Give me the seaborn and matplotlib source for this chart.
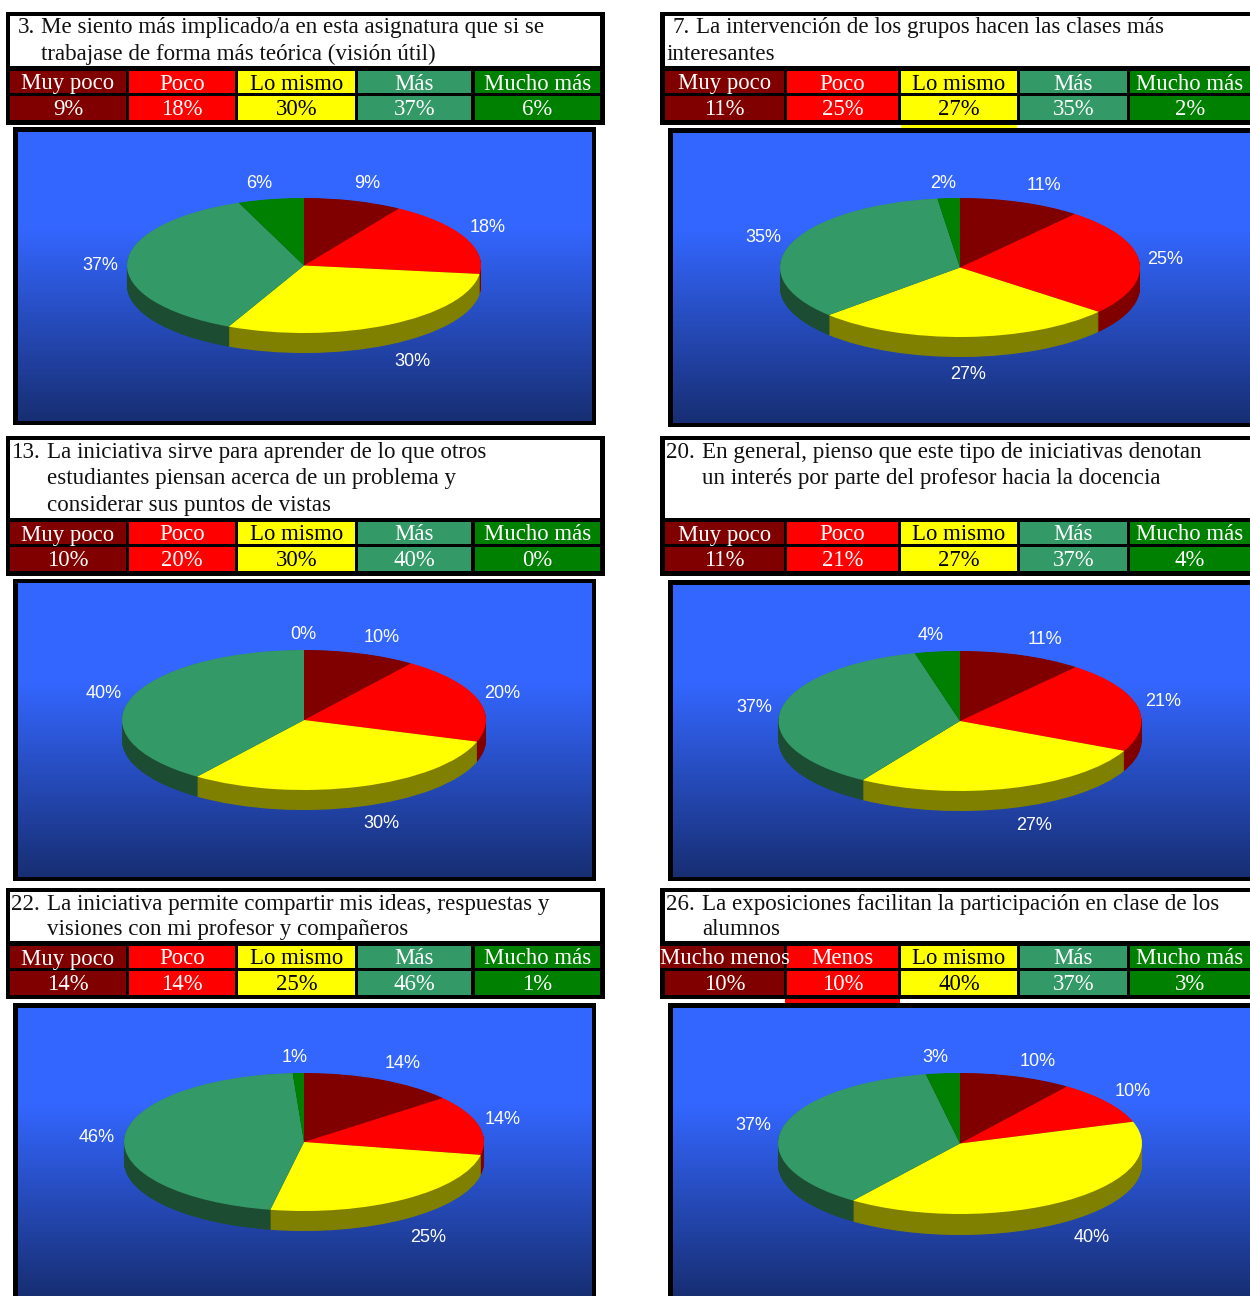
import numpy as np
import matplotlib

matplotlib.use("Agg")
import matplotlib.pyplot as plt
from matplotlib.patches import Rectangle
import seaborn as sns

sns.set_theme(style="white")

# survey values, one list per question
q3_values = [9, 18, 30, 37, 6]
q7_values = [11, 25, 27, 35, 2]
q13_values = [10, 20, 30, 40, 0]
q20_values = [11, 21, 27, 37, 4]
q22_values = [14, 14, 25, 46, 1]
q26_values = [10, 10, 40, 37, 3]
all_values = [q3_values, q7_values, q13_values, q20_values, q22_values, q26_values]

scale_labels = ["Muy poco", "Poco", "Lo mismo", "Más", "Mucho más"]
scale_labels_q26 = ["Mucho menos", "Menos", "Lo mismo", "Más", "Mucho más"]

numbers = ["3.", "7.", "13.", "20.", "22.", "26."]
titles = [
    ["Me siento más implicado/a en esta asignatura que si se",
     "trabajase de forma más teórica (visión útil)"],
    ["La intervención de los grupos hacen las clases más"],
    ["La iniciativa sirve para aprender de lo que otros",
     "estudiantes piensan acerca de un problema y",
     "considerar sus puntos de vistas"],
    ["En general, pienso que este tipo de iniciativas denotan",
     "un interés por parte del profesor hacia la docencia"],
    ["La iniciativa permite compartir mis ideas, respuestas y",
     "visiones con mi profesor y compañeros"],
    ["La exposiciones facilitan la participación en clase de los",
     "alumnos"],
]

top_colors = sns.color_palette(["#800000", "#ff0000", "#ffff00", "#339966", "#008000"])
wall_colors = sns.color_palette(["#4d0000", "#800000", "#808000", "#1c4d33", "#004000"])
text_colors = ["white", "white", "black", "white", "white"]
background = sns.blend_palette(["#3366ff", "#3366ff", "#254ab9", "#172e73"], as_cmap=True)

W, H = 1250, 1296
SERIF = "Liberation Serif"
SANS = "Liberation Sans"
TITLE_SIZE = 16.6
CELL_SIZE = 16.4

# layout, in pixels of the image
left_cells = [(10, 126), (129, 235), (238, 355), (358, 471), (475, 600)]
right_cells = [(665, 784), (787, 898), (901, 1017), (1020, 1127), (1130, 1254)]
# frame top, white bottom, header top, header bottom, value top, value bottom, frame bottom
rows = [
    (12, 66, 71, 93, 96, 120, 125),
    (12, 66, 71, 93, 96, 120, 125),
    (436, 518, 522, 544, 547, 571, 576),
    (436, 518, 522, 544, 547, 571, 576),
    (888, 941, 946, 968, 971, 995, 999),
    (888, 941, 946, 968, 971, 995, 999),
]
title_x = [(18, 41), (672, 696), (12, 47), (666, 702), (11, 47), (666, 702)]
# text baselines of the title lines
title_y = [(33, 60), (33, 60), (458, 484, 511), (458, 484), (910, 935), (910, 935)]
# outer top and bottom of the blue frames
chart_y = [(127, 425), (128, 427), (579, 881), (580, 881), (1003, 1300), (1003, 1300)]
# pie centre x, centre y, radius x, radius y, depth
pies = [
    (304, 265.5, 177, 67.5, 20),
    (960, 267.5, 180, 69.5, 20),
    (304, 720, 182, 70, 20),
    (960, 721, 181.5, 70, 20),
    (304, 1142, 180, 69, 20),
    (960, 1143.5, 182, 70.5, 21),
]
label_xy = [
    [(367, 184), (488, 228), (412, 362), (100, 265), (259, 183)],
    [(1044, 186), (1165, 260), (968, 374), (763, 238), (943, 183)],
    [(382, 637), (502, 693), (381, 824), (104, 693), (303, 634)],
    [(1045, 639), (1163, 702), (1034, 825), (754, 708), (931, 636)],
    [(403, 1063), (503, 1120), (428, 1237), (97, 1138), (295, 1057)],
    [(1038, 1061), (1133, 1091), (1092, 1238), (753, 1126), (935, 1057)],
]

fig = plt.figure(figsize=(W / 100, H / 100), dpi=100, facecolor="white")
ax = fig.add_axes([0, 0, 1, 1])
ax.set_xlim(0, W)
ax.set_ylim(H, 0)
ax.axis("off")


def box(x0, x1, y0, y1, color, z=1):
    r = Rectangle((x0, y0), x1 - x0, y1 - y0, facecolor=color, edgecolor="none", zorder=z)
    ax.add_patch(r)
    return r


for i, values in enumerate(all_values):
    right = i % 2 == 1
    cells = right_cells if right else left_cells
    frame_l, frame_r = (660, 1254) if right else (6, 605)
    white_l, white_r = (665, 1254) if right else (10, 600)
    top, white_b, head_t, head_b, val_t, val_b, bottom = rows[i]

    # title box and table
    box(frame_l, frame_r, top, bottom, "black")
    box(white_l, white_r, top + 4, white_b, "white", 2)
    x_num, x_txt = title_x[i]
    ax.text(x_num, title_y[i][0], numbers[i], family=SERIF, size=TITLE_SIZE,
            color="#111111", va="baseline", zorder=3)
    for line, y in zip(titles[i], title_y[i]):
        ax.text(x_txt, y, line, family=SERIF, size=TITLE_SIZE, color="#111111",
                va="baseline", zorder=3)
    if i == 1:
        ax.text(666, title_y[i][1], "interesantes", family=SERIF, size=TITLE_SIZE,
                color="#111111", va="baseline", zorder=3)

    labels = scale_labels_q26 if i == 5 else scale_labels
    for j, (x0, x1) in enumerate(cells):
        head_x0 = 660 if (i == 5 and j == 0) else x0
        clip = box(head_x0, x1, head_t, head_b, top_colors[j], 2)
        box(x0, x1, val_t, val_b, top_colors[j], 2)
        t = ax.text((x0 + min(x1, 1250)) / 2, head_b - 3.5, labels[j], family=SERIF,
                    size=CELL_SIZE, color=text_colors[j], ha="center", va="baseline", zorder=3)
        t.set_clip_path(clip)
        ax.text((x0 + min(x1, 1250)) / 2, val_b - 5, f"{values[j]}%", family=SERIF,
                size=CELL_SIZE, color=text_colors[j], ha="center", va="baseline", zorder=3)

    # blue chart background with its black frame
    chart_t, chart_b = chart_y[i]
    chart_l, chart_r = (668, 1254) if right else (13, 596)
    box(chart_l, chart_r, chart_t, chart_b, "black")
    bg_ax = fig.add_axes([(chart_l + 4.5) / W, 1 - (chart_b - 4) / H,
                          (chart_r - chart_l - 9) / W, (chart_b - chart_t - 8.5) / H])
    gradient = np.linspace(0, 1, 256).reshape(-1, 1)
    sns.heatmap(gradient, cmap=background, cbar=False, xticklabels=False,
                yticklabels=False, ax=bg_ax)

    # pie: dark copies stacked downward give the side wall, the flat top goes last
    cx, cy, rx, ry, depth = pies[i]
    pie_ax = fig.add_axes([(cx - rx) / W, 1 - (cy + ry + depth) / H,
                           2 * rx / W, (2 * ry + depth) / H], zorder=5)
    for k in range(depth * 2, 0, -1):
        pie_ax.pie(values, colors=wall_colors, startangle=90, counterclock=False, radius=1,
                   center=(0, -k / 2 / ry), wedgeprops={"linewidth": 0, "clip_on": False})
    pie_ax.pie(values, colors=top_colors, startangle=90, counterclock=False, radius=1,
               center=(0, 0), wedgeprops={"linewidth": 0, "clip_on": False})
    pie_ax.set_aspect("auto")
    pie_ax.set_xlim(-1, 1)
    pie_ax.set_ylim(-1 - depth / ry, 1)

    for v, (x, y) in zip(values, label_xy[i]):
        fig.text(x / W, 1 - y / H, f"{v}%", family=SANS, size=13, color="white",
                 ha="center", va="center", zorder=6)

# slivers of the table colours that show under the frame
box(901, 1017, 125, 128, "#ffff00", 1.5)
box(785, 900, 999, 1003, "#ff0000", 1.5)

fig.savefig("out.png", dpi=100)
